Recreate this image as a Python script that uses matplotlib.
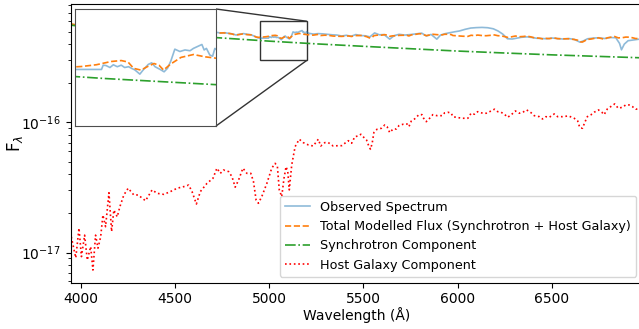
import numpy as np
import matplotlib
matplotlib.use("Agg")
import matplotlib.pyplot as plt
from mpl_toolkits.axes_grid1.inset_locator import mark_inset

# Host galaxy template (flux in units of 1e-17)
host_wav = np.array([
    3950, 3974, 3991, 4004, 4021, 4035, 4053, 4065, 4079, 4092,
    4106, 4118, 4132, 4150, 4164, 4176, 4194, 4208, 4229, 4252,
    4282, 4305, 4344, 4379, 4406, 4441, 4476, 4512, 4547, 4573,
    4591, 4614, 4635, 4670, 4702, 4723, 4741, 4758, 4785, 4803,
    4820, 4838, 4861, 4882, 4903, 4917, 4931, 4943, 4961, 4988,
    5014, 5032, 5044, 5054, 5067, 5079, 5090, 5099, 5107, 5120,
    5138, 5160, 5181, 5208, 5234, 5261, 5274, 5296, 5314, 5340,
    5367, 5385, 5402, 5420, 5438, 5455, 5473, 5487, 5504, 5517,
    5529, 5538, 5547, 5556, 5573, 5596, 5614, 5626, 5640, 5658,
    5676, 5689, 5711, 5732, 5742, 5755, 5772, 5795, 5811, 5820,
    5834, 5852, 5869, 5891, 5919, 5931, 5949, 5967, 5975, 6002,
    6028, 6055, 6072, 6090, 6107, 6134, 6152, 6178, 6196, 6213,
    6231, 6249, 6266, 6284, 6307, 6328, 6349, 6367, 6390, 6407,
    6434, 6451, 6469, 6487, 6513, 6531, 6557, 6589, 6619, 6637,
    6649, 6663, 6677, 6689, 6707, 6725, 6748, 6766, 6778, 6795,
    6819, 6834, 6853, 6875, 6893, 6910, 6928, 6946, 6979])
host_flux_e17 = np.array([
    1.32, 0.91, 1.54, 0.93, 1.36, 0.875, 1.11, 0.733, 1.36, 1.08,
    1.32, 1.94, 1.58, 2.88, 1.45, 2.12, 1.88, 2.25, 2.77, 3.12,
    2.77, 2.77, 2.50, 3.03, 2.85, 2.80, 2.94, 3.12, 3.21, 3.30,
    2.94, 2.36, 2.94, 3.40, 3.72, 4.45, 4.06, 4.31, 4.19, 3.83,
    3.18, 3.61, 4.45, 4.06, 4.06, 3.51, 2.53, 2.39, 2.69, 3.40,
    4.45, 4.85, 4.57, 3.03, 2.69, 3.72, 4.57, 4.19, 3.03, 4.71,
    6.52, 7.43, 7.00, 6.72, 6.59, 7.43, 6.59, 7.00, 7.00, 6.59,
    6.63, 6.63, 6.92, 7.24, 6.92, 7.78, 7.87, 8.11, 7.64, 7.33,
    6.59, 6.22, 6.92, 8.36, 8.87, 9.02, 9.57, 9.29, 8.36, 8.91,
    8.91, 9.45, 9.69, 9.74, 9.29, 10.27, 10.64, 11.48, 11.48, 10.77,
    10.14, 10.77, 11.48, 11.28, 11.28, 11.84, 11.98, 11.77, 11.08, 10.89,
    10.77, 10.77, 11.77, 11.56, 12.11, 11.77, 11.77, 12.25, 12.64, 12.11,
    11.98, 11.56, 10.96, 11.42, 12.25, 11.77, 12.05, 12.48, 11.89, 11.28,
    11.08, 10.64, 11.08, 10.96, 11.62, 11.08, 11.08, 11.22, 10.77, 10.32,
    9.12, 9.02, 10.14, 11.08, 11.42, 11.98, 12.48, 11.98, 11.48, 12.70,
    13.40, 13.88, 12.85, 13.09, 13.64, 13.64, 13.24, 12.64, 12.90])

# Synchrotron component (flux in units of 1e-16)
sync_wav = np.array([3947, 4200, 4500, 4750, 5000, 5250, 5500, 5750,
                     6000, 6250, 6500, 6750, 6979])
sync_flux_e16 = np.array([5.60, 5.10, 4.72, 4.46, 4.22, 4.02, 3.85, 3.69,
                          3.54, 3.42, 3.31, 3.22, 3.14])

# Observed spectrum (flux in units of 1e-16)
obs_wav = np.array([
    3947, 3975, 4000, 4050, 4100, 4150, 4200, 4250, 4300, 4350,
    4400, 4450, 4500, 4550, 4600, 4650, 4700,
    4725, 4745, 4765, 4785, 4805, 4825, 4845, 4865, 4885, 4905,
    4925, 4940, 4952, 4997,
    5000, 5005, 5012, 5018, 5025, 5032, 5038, 5045, 5050, 5056,
    5065, 5071, 5080, 5086, 5092, 5101, 5108, 5114, 5120, 5127,
    5136, 5145, 5154, 5160, 5166, 5175, 5179, 5183, 5189, 5194, 5198,
    5210, 5235, 5260, 5285, 5310, 5335, 5360, 5385, 5410, 5435,
    5460, 5485, 5510, 5535, 5560, 5585, 5610, 5640, 5665, 5690,
    5720, 5750, 5780, 5810, 5835, 5860, 5890, 5910, 5935, 5960,
    5985, 6010, 6040, 6070, 6100, 6130, 6160, 6190, 6215, 6240,
    6265, 6290, 6315, 6340, 6370, 6395, 6420, 6450, 6475, 6500,
    6530, 6560, 6590, 6620, 6650, 6670, 6690, 6720, 6750, 6780,
    6810, 6840, 6860, 6870, 6885, 6905, 6930, 6955, 6979])
obs_flux_e16 = np.array([
    5.66, 5.62, 5.55, 5.47, 5.42, 5.40, 5.32, 5.28, 5.18, 5.10,
    5.05, 4.98, 4.95, 4.92, 4.83, 4.86, 4.86,
    4.92, 4.86, 4.90, 4.84, 4.80, 4.70, 4.78, 4.82, 4.76, 4.72,
    4.58, 4.48, 4.45, 4.45,
    4.56, 4.55, 4.50, 4.57, 4.52, 4.56, 4.50, 4.52, 4.48, 4.44,
    4.33, 4.44, 4.58, 4.62, 4.52, 4.45, 4.39, 4.48, 4.67, 4.97,
    4.91, 4.95, 4.93, 4.99, 5.03, 5.09, 4.95, 4.99, 4.82, 4.79, 4.99,
    4.85, 4.78, 4.82, 4.80, 4.76, 4.72, 4.70, 4.62, 4.68, 4.60,
    4.74, 4.66, 4.64, 4.55, 4.88, 4.72, 4.74, 4.37, 4.66, 4.76,
    4.70, 4.74, 4.80, 4.86, 4.62, 4.75, 4.37, 4.70, 4.82, 4.90,
    4.98, 5.05, 5.20, 5.32, 5.36, 5.38, 5.35, 5.25, 5.05, 4.78,
    4.40, 4.38, 4.45, 4.52, 4.55, 4.50, 4.44, 4.42, 4.40, 4.46,
    4.42, 4.38, 4.42, 4.35, 4.14, 4.25, 4.40, 4.45, 4.48, 4.42,
    4.50, 4.48, 4.05, 3.62, 4.00, 4.25, 4.30, 4.35, 4.40])

# Convert to physical units and build the model total on the host grid
host = host_flux_e17 * 1e-17
sync = sync_flux_e16 * 1e-16
obs = obs_flux_e16 * 1e-16
sync_on_host = 10 ** np.interp(np.log10(host_wav), np.log10(sync_wav), np.log10(sync))
total = sync_on_host + host

W, H = 639, 329
fig = plt.figure(figsize=(W / 100, H / 100), dpi=100)
ax = fig.add_axes([70.7 / W, (H - 282.7) / H, (642 - 70.7) / W, (282.7 - 4.3) / H])


def draw_spectra(a, with_host=True):
    a.plot(obs_wav, obs, color='C0', alpha=0.5, lw=1.2, label='Observed Spectrum')
    a.plot(host_wav, total, '--', color='C1', lw=1.2,
           label='Total Modelled Flux (Synchrotron + Host Galaxy)')
    a.plot(sync_wav, sync, '-.', color='C2', lw=1.2, label='Synchrotron Component')
    if with_host:
        a.plot(host_wav, host, ':', color='red', lw=1.2, label='Host Galaxy Component')


draw_spectra(ax)
ax.set_yscale('log')
ax.set_xlim(3947, 6979)
ax.set_ylim(5.86e-18, 8.1e-16)
ax.set_xticks([4000, 4500, 5000, 5500, 6000, 6500])
ax.tick_params(labelsize=10)
ax.set_xlabel('Wavelength (Å)', fontsize=10, labelpad=0.5)
ax.set_ylabel(r'F$_\lambda$', fontsize=12)
ax.yaxis.set_label_coords(-0.08, 0.5)
ax.legend(loc='lower right', fontsize=9.2, borderaxespad=0.45)

# Zoomed view of the 4950-5200 Å region
axins = fig.add_axes([75 / W, (H - 126) / H, 141 / W, 117 / H])
draw_spectra(axins, with_host=False)
axins.set_xlim(4950, 5200)
axins.set_ylim(3e-16, 6e-16)
axins.set_xticks([])
axins.set_yticks([])
for spine in axins.spines.values():
    spine.set_edgecolor('0.3')
mark_inset(ax, axins, loc1=1, loc2=4, fc='none', ec='0.2', lw=1)

fig.savefig('out.png', dpi=100)
